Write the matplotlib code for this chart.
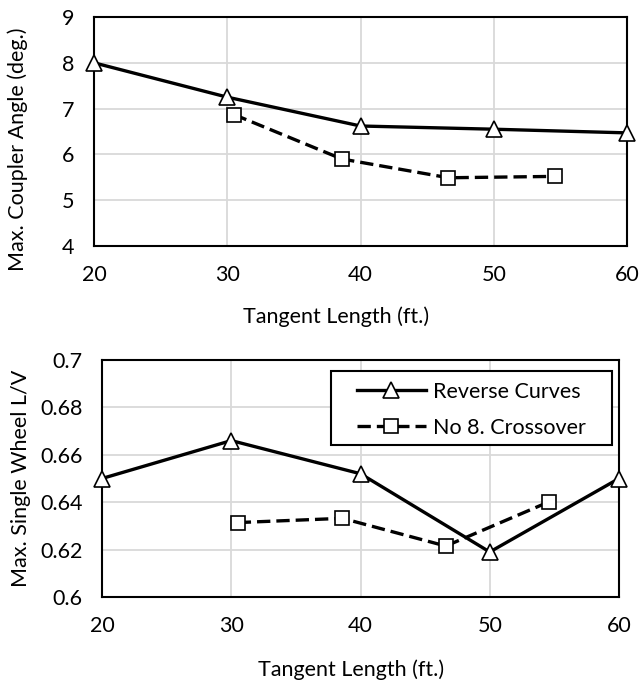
import matplotlib
matplotlib.use("Agg")
import matplotlib.pyplot as plt
from matplotlib.patches import Rectangle

# ---- data ----
rev_x = [20, 30, 40, 50, 60]
rev_angle = [8.0, 7.25, 6.62, 6.55, 6.47]
rev_lv = [0.650, 0.666, 0.652, 0.619, 0.650]

xo_x = [30.5, 38.6, 46.6, 54.6]
xo_angle = [6.87, 5.90, 5.49, 5.52]
xo_lv = [0.6314, 0.6332, 0.6215, 0.6402]

x_ticks = [20, 30, 40, 50, 60]
angle_ticks = [4, 5, 6, 7, 8, 9]
lv_ticks = [0.6, 0.62, 0.64, 0.66, 0.68, 0.7]
lv_tick_labels = ["0.6", "0.62", "0.64", "0.66", "0.68", "0.7"]

xlabel = "Tangent Length (ft.)"
ylabel_top = "Max. Coupler Angle (deg.)"
ylabel_bot = "Max. Single Wheel L/V"
leg_labels = ["Reverse Curves", "No 8. Crossover"]

plt.rcParams['font.family'] = ['Lato', 'DejaVu Sans']
FS = 15.5

fig = plt.figure(figsize=(6.4, 6.83), dpi=100)
ax1 = fig.add_axes([94/640, 1-246/683, (627-94)/640, (246-17)/683])
ax2 = fig.add_axes([102/640, 1-597/683, (619-102)/640, (597-360)/683])

line_kw = dict(color='black', lw=2.4, clip_on=False, zorder=3)
tri_kw = dict(marker='^', markersize=11.5, markerfacecolor='white', markeredgecolor='black', markeredgewidth=1.2)
sq_kw = dict(marker='s', markersize=10.5, markerfacecolor='white', markeredgecolor='black', markeredgewidth=1.2)

for ax in (ax1, ax2):
    ax.set_xlim(20, 60)
    ax.set_xticks(x_ticks)
    ax.grid(True, color='#d9d9d9', lw=1.3, zorder=0)
    ax.set_axisbelow(True)
    for s in ax.spines.values():
        s.set_linewidth(1.5)
        s.set_color('black')
    ax.tick_params(length=0, pad=14, labelsize=FS)

ax1.plot(rev_x, rev_angle, '-', **line_kw, **tri_kw, label=leg_labels[0])
l = ax1.plot(xo_x, xo_angle, '--', **line_kw, **sq_kw, label=leg_labels[1])[0]
l.set_dashes((4, 1.8))
ax1.set_ylim(4, 9)
ax1.set_yticks(angle_ticks)
ax1.set_xlabel(xlabel, fontsize=FS)
ax1.set_ylabel(ylabel_top, fontsize=FS)
ax1.xaxis.set_label_coords(0.454, -0.265)
ax1.yaxis.set_label_coords(-0.124, 0.424)

ax2.plot(rev_x, rev_lv, '-', **line_kw, **tri_kw, label=leg_labels[0])
l2 = ax2.plot(xo_x, xo_lv, '--', **line_kw, **sq_kw, label=leg_labels[1])[0]
l2.set_dashes((4, 1.8))
ax2.set_ylim(0.6, 0.7)
ax2.set_yticks(lv_ticks)
ax2.set_yticklabels(lv_tick_labels)
ax2.set_xlabel(xlabel, fontsize=FS)
ax2.set_ylabel(ylabel_bot, fontsize=FS)
ax2.xaxis.set_label_coords(0.482, -0.265)
ax2.yaxis.set_label_coords(-0.137, 0.5)

leg = ax2.legend(loc='upper left', bbox_to_anchor=(357/640, 1-382/683), bbox_transform=fig.transFigure,
                 fontsize=FS, frameon=False,
                 handlelength=3.2, borderpad=0, labelspacing=0.72, handletextpad=0.35, borderaxespad=0)
box = Rectangle((331/640, 1-445/683), (612-331)/640, (445-371)/683, transform=fig.transFigure,
                facecolor='white', edgecolor='black', lw=1.5, zorder=4)
ax2.add_artist(box)
box.set_clip_on(False)
leg.set_zorder(5)

fig.savefig('out.png', dpi=100)
